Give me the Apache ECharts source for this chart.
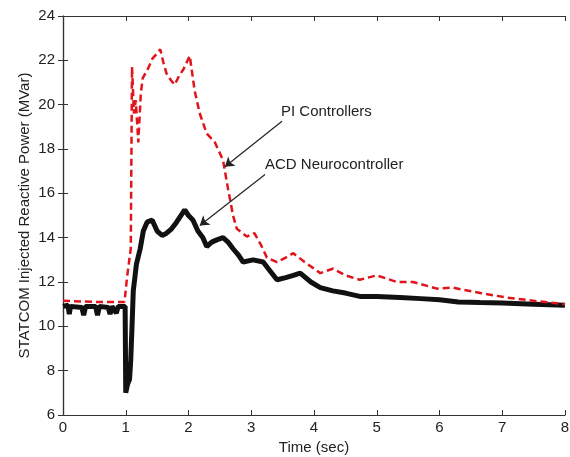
<!DOCTYPE html>
<html>
<head>
<meta charset="utf-8">
<script src="https://cdn.jsdelivr.net/npm/echarts@6/dist/echarts.min.js"></script>
<style>
  html, body { margin: 0; padding: 0; background: #fff; }
  #chart { width: 570px; height: 457px; }
</style>
</head>
<body>
<div id="chart"></div>
<script>
// PI controllers (red dashed) - time / value
var piTime = [0, 0.5, 0.98, 1.02, 1.08, 1.1, 1.13, 1.16, 1.2, 1.24, 1.27, 1.35, 1.43, 1.5, 1.55, 1.6, 1.65, 1.72, 1.78, 1.85, 1.92, 2.02, 2.1, 2.18, 2.29, 2.42, 2.55, 2.63, 2.71, 2.77, 2.93, 3.05, 3.15, 3.25, 3.41, 3.55, 3.67, 3.85, 4.1, 4.3, 4.5, 4.73, 5.0, 5.32, 5.58, 5.96, 6.2, 6.65, 7.07, 7.5, 8];
var piValue = [11.15, 11.1, 11.1, 12.2, 13.5, 21.7, 19.6, 20.2, 18.3, 20.5, 21.2, 21.6, 22.1, 22.3, 22.5, 21.9, 21.4, 21.1, 20.9, 21.3, 21.6, 22.2, 20.6, 19.6, 18.7, 18.3, 17.5, 16.2, 15.0, 14.4, 14.05, 14.2, 13.7, 13.1, 12.9, 13.1, 13.3, 12.9, 12.4, 12.6, 12.3, 12.1, 12.3, 12.0, 12.0, 11.7, 11.75, 11.5, 11.3, 11.15, 11.0];

// ACD neurocontroller (black)
var acdTime = [0, 0.08, 0.1, 0.12, 0.3, 0.33, 0.36, 0.52, 0.55, 0.58, 0.72, 0.75, 0.78, 0.85, 0.88, 0.99, 1.0, 1.03, 1.06, 1.08, 1.1, 1.12, 1.17, 1.23, 1.28, 1.34, 1.42, 1.5, 1.58, 1.65, 1.73, 1.81, 1.94, 2.0, 2.07, 2.15, 2.23, 2.29, 2.37, 2.45, 2.55, 2.63, 2.71, 2.8, 2.87, 3.03, 3.19, 3.3, 3.41, 3.55, 3.67, 3.78, 3.95, 4.1, 4.3, 4.5, 4.73, 5.0, 5.37, 5.7, 6.0, 6.3, 6.65, 7.0, 7.5, 8];
var acdValue = [10.9, 10.95, 10.55, 10.9, 10.85, 10.5, 10.9, 10.9, 10.5, 10.9, 10.85, 10.55, 10.9, 10.6, 10.9, 10.9, 7.0, 7.4, 7.6, 8.5, 10.0, 11.6, 12.8, 13.5, 14.3, 14.7, 14.8, 14.3, 14.1, 14.2, 14.4, 14.7, 15.25, 15.0, 14.8, 14.3, 14.0, 13.6, 13.8, 13.9, 14.0, 13.8, 13.5, 13.2, 12.9, 13.0, 12.9, 12.5, 12.1, 12.2, 12.3, 12.4, 12.0, 11.75, 11.6, 11.5, 11.35, 11.35, 11.3, 11.25, 11.2, 11.1, 11.07, 11.05, 11.0, 10.95];

var xTicks = [0, 1, 2, 3, 4, 5, 6, 7, 8];
var yTicks = [6, 8, 10, 12, 14, 16, 18, 20, 22, 24];

function pairs(t, v) {
  var out = [];
  for (var i = 0; i < t.length; i++) out.push([t[i], v[i]]);
  return out;
}

var chart = echarts.init(document.getElementById('chart'));

var axisCommon = {
  axisLine: { show: true, lineStyle: { color: '#333', width: 1.2 } },
  axisTick: { show: true, inside: true, length: 5, lineStyle: { color: '#333' } },
  splitLine: { show: false },
  nameMoveOverlap: false
};

var option = {
  animation: false,
  backgroundColor: '#fff',
  grid: { left: 63, right: 5, top: 16, bottom: 42, outerBoundsMode: 'none', containLabel: false },
  xAxis: [
    Object.assign({
      type: 'value', min: xTicks[0], max: xTicks[xTicks.length - 1], interval: 1, position: 'bottom',
      name: 'Time (sec)', nameLocation: 'middle', nameGap: 25,
      nameTextStyle: { fontFamily: 'Liberation Sans', fontSize: 15, color: '#222' },
      axisLabel: { fontFamily: 'Liberation Sans', fontSize: 15, color: '#222', margin: 5 }
    }, axisCommon),
    Object.assign({
      type: 'value', min: xTicks[0], max: xTicks[xTicks.length - 1], interval: 1, position: 'top',
      axisLabel: { show: false }
    }, axisCommon)
  ],
  yAxis: [
    Object.assign({
      type: 'value', min: yTicks[0], max: yTicks[yTicks.length - 1], interval: 2, position: 'left',
      name: 'STATCOM Injected Reactive Power (MVar)', nameLocation: 'middle', nameGap: 31,
      nameTextStyle: { fontFamily: 'Liberation Sans', fontSize: 15, color: '#222' },
      axisLabel: { fontFamily: 'Liberation Sans', fontSize: 15, color: '#222', margin: 8 }
    }, axisCommon),
    Object.assign({
      type: 'value', min: yTicks[0], max: yTicks[yTicks.length - 1], interval: 2, position: 'right',
      axisLabel: { show: false }
    }, axisCommon)
  ],
  series: [
    {
      name: 'ACD Neurocontroller',
      type: 'line',
      data: pairs(acdTime, acdValue),
      showSymbol: false,
      lineStyle: { color: '#111', width: 5 },
      z: 2
    },
    {
      name: 'PI Controllers',
      type: 'line',
      data: pairs(piTime, piValue),
      showSymbol: false,
      lineStyle: { color: '#e0141a', width: 2.5, type: [7, 4] },
      z: 3,
      markLine: {
        silent: true,
        symbol: ['none', 'arrow'],
        symbolSize: 9,
        lineStyle: { color: '#222', width: 1.2, type: 'solid' },
        label: { show: false },
        data: [
          [{ coord: [3.49, 19.25] }, { coord: [2.58, 17.2] }],
          [{ coord: [3.22, 16.85] }, { coord: [2.18, 14.55] }]
        ]
      }
    }
  ],
  graphic: [
    { type: 'text', left: 281, top: 104, style: { text: 'PI Controllers', font: '15px "Liberation Sans"', fill: '#222' } },
    { type: 'text', left: 265, top: 157, style: { text: 'ACD Neurocontroller', font: '15px "Liberation Sans"', fill: '#222' } }
  ]
};

chart.setOption(option);
</script>
</body>
</html>
